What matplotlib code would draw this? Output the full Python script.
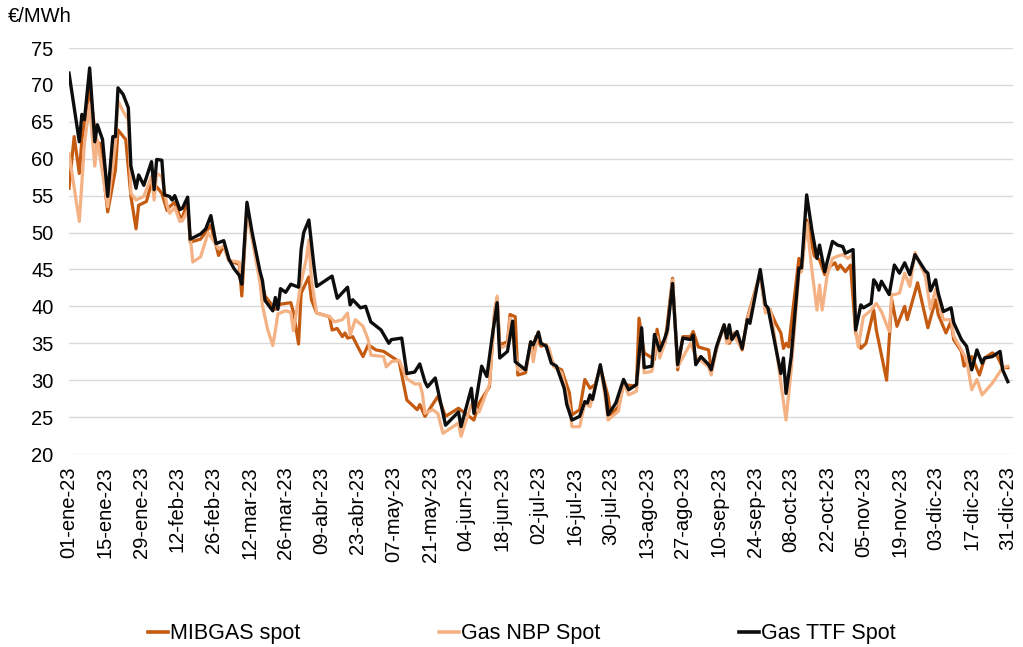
import matplotlib
matplotlib.use("Agg")
import matplotlib.pyplot as plt
from matplotlib.lines import Line2D

plt.rcParams['font.family'] = ['Liberation Sans', 'DejaVu Sans']

# ---- data (day offset from 01-ene-2023, €/MWh) ----
ttf_days = [0, 1, 4, 5, 6, 8, 10, 11, 13, 15, 17, 18, 19, 21, 23, 24, 26, 27, 29, 32, 33, 34, 36, 37, 39,
            40, 41, 43, 44, 46, 47, 51, 53, 55, 57, 60, 62, 64, 66, 67, 69, 71, 74, 75, 76, 79, 80, 81, 82,
            84, 86, 89, 90, 91, 93, 95, 96, 102, 104, 108, 109, 110, 113, 115, 117, 121, 124, 125, 129, 131,
            134, 136, 138, 139, 142, 146, 151, 152, 156, 157, 160, 162, 164, 166, 167, 170, 172, 173, 177,
            179, 180, 182, 183, 185, 187, 189, 192, 193, 195, 198, 200, 201, 202, 203, 206, 208, 209, 212,
            215, 217, 220, 222, 223, 226, 227, 229, 231, 232, 234, 236, 238, 241, 242, 243, 245, 248, 249,
            251, 254, 255, 256, 257, 259, 261, 263, 264, 268, 270, 271, 276, 277, 278, 280, 283, 284, 286,
            288, 290, 291, 293, 294, 296, 298, 300, 301, 304, 305, 307, 308, 311, 312, 313, 314, 315, 318,
            320, 322, 324, 326, 328, 332, 333, 334, 336, 337, 339, 342, 343, 346, 348, 350, 352, 354, 355,
            358, 361, 362, 364]
ttf_vals = [71.6, 69.3, 62.3, 66.0, 65.3, 72.3, 62.3, 64.6, 62.6, 54.9, 63.0, 63.0, 69.6, 68.7, 66.9, 59.0,
            56.0, 57.8, 56.4, 59.6, 55.8, 59.9, 59.8, 55.1, 54.9, 54.4, 55.0, 53.1, 53.3, 54.8, 49.1, 49.8,
            50.5, 52.3, 48.5, 48.9, 46.4, 45.1, 44.2, 43.0, 54.1, 50.0, 44.8, 43.5, 40.8, 39.4, 41.2, 39.6,
            42.4, 41.9, 43.0, 42.6, 47.7, 50.0, 51.7, 45.4, 42.7, 44.1, 41.1, 42.6, 40.2, 40.9, 39.8, 40.0,
            37.9, 36.8, 35.0, 35.5, 35.7, 30.9, 31.1, 32.2, 29.8, 29.1, 30.3, 23.9, 25.7, 23.7, 28.9, 25.5,
            31.9, 30.5, 35.7, 40.5, 33.0, 33.9, 38.0, 32.5, 31.4, 35.2, 34.8, 36.5, 35.0, 34.6, 32.3, 31.9,
            28.9, 26.7, 24.6, 25.1, 27.1, 26.9, 28.0, 27.4, 32.1, 28.3, 25.3, 26.9, 30.1, 28.7, 29.4, 37.1,
            31.7, 31.9, 36.2, 34.0, 35.7, 36.8, 43.1, 32.1, 35.7, 35.5, 36.1, 32.1, 33.2, 32.1, 31.4, 34.5,
            37.5, 35.7, 37.5, 35.5, 36.6, 34.3, 38.2, 37.7, 45.0, 40.2, 39.8, 30.9, 33.0, 28.2, 33.2, 45.2,
            45.2, 55.1, 50.4, 46.5, 48.3, 44.7, 46.1, 48.8, 48.3, 48.1, 47.2, 47.7, 36.8, 40.2, 39.8, 40.4,
            43.6, 43.1, 42.2, 43.4, 41.6, 45.6, 44.5, 45.9, 44.3, 47.0, 44.8, 44.5, 42.1, 43.6, 41.8, 39.3,
            39.8, 37.8, 35.5, 34.6, 31.4, 34.1, 32.3, 33.0, 33.2, 33.9, 31.4, 29.8]

mib_days = [0, 2, 4, 5, 8, 11, 12, 15, 18, 19, 22, 24, 26, 27, 30, 32, 33, 34, 36, 38, 39, 41, 43, 44, 46,
            47, 51, 55, 58, 60, 62, 66, 67, 69, 71, 74, 76, 80, 82, 86, 87, 89, 90, 93, 94, 96, 101, 102,
            104, 106, 107, 108, 110, 112, 114, 116, 119, 122, 125, 128, 131, 135, 136, 138, 143, 146, 151,
            157, 159, 163, 165, 166, 167, 170, 171, 173, 174, 177, 179, 180, 181, 183, 185, 188, 191, 194,
            195, 198, 200, 202, 204, 206, 209, 210, 213, 215, 220, 221, 223, 227, 228, 229, 231, 232, 234,
            236, 238, 241, 242, 244, 248, 249, 252, 254, 256, 258, 261, 263, 268, 270, 272, 274, 276, 277,
            278, 279, 283, 284, 286, 289, 291, 293, 295, 297, 298, 299, 301, 303, 305, 307, 309, 312, 313,
            317, 319, 321, 324, 325, 329, 333, 336, 337, 340, 342, 343, 346, 347, 350, 353, 355, 358, 360,
            362, 364]
mib_vals = [56.0, 63.0, 58.0, 62.6, 69.5, 61.2, 62.1, 52.8, 58.5, 63.9, 62.6, 54.9, 50.5, 53.7, 54.2, 56.7,
            56.0, 56.2, 55.3, 53.0, 53.5, 54.1, 52.1, 52.1, 54.1, 48.7, 49.1, 51.0, 46.9, 48.2, 46.2, 45.7,
            41.4, 53.4, 49.5, 44.2, 41.4, 39.6, 40.3, 40.5, 39.2, 34.9, 41.8, 44.0, 40.9, 39.1, 38.6, 36.8,
            37.0, 35.9, 36.4, 35.7, 35.9, 34.5, 33.2, 34.8, 34.1, 33.9, 33.2, 32.5, 27.3, 26.0, 26.7, 25.1,
            27.8, 25.1, 26.2, 24.6, 26.9, 29.1, 39.3, 41.1, 34.8, 35.2, 38.9, 38.6, 30.7, 31.0, 35.2, 34.1,
            35.9, 34.6, 34.8, 31.9, 31.4, 28.3, 25.3, 26.0, 30.1, 28.9, 29.4, 31.7, 27.8, 25.3, 26.4, 29.4,
            29.2, 38.4, 33.7, 32.8, 36.9, 35.0, 35.0, 37.7, 43.8, 31.4, 35.9, 35.9, 36.6, 34.5, 34.1, 31.4,
            35.5, 37.5, 35.0, 36.4, 34.1, 38.4, 44.5, 39.5, 39.3, 37.7, 36.4, 34.3, 35.0, 34.5, 46.5, 45.0,
            51.7, 46.8, 46.3, 44.3, 45.4, 45.9, 45.0, 45.6, 44.7, 45.6, 36.4, 34.3, 35.0, 39.5, 36.8, 30.0,
            40.9, 37.3, 40.0, 38.2, 43.2, 37.1, 40.9, 38.9, 36.4, 38.0, 35.5, 33.9, 31.9, 33.2, 30.7, 33.0,
            33.7, 33.2, 31.7, 31.7]

nbp_days = [0, 4, 6, 8, 10, 11, 15, 18, 19, 21, 23, 24, 26, 29, 32, 33, 34, 36, 38, 39, 41, 43, 44, 46, 48,
            51, 54, 58, 60, 62, 66, 67, 69, 71, 74, 75, 77, 79, 80, 81, 84, 86, 87, 90, 92, 93, 94, 96, 101,
            103, 106, 108, 109, 111, 114, 116, 117, 122, 123, 125, 128, 131, 134, 136, 137, 138, 141, 143,
            145, 151, 152, 156, 159, 163, 165, 166, 167, 170, 171, 174, 177, 179, 180, 182, 183, 186, 188,
            191, 194, 195, 198, 200, 202, 206, 208, 209, 213, 215, 217, 220, 222, 223, 226, 228, 229, 231,
            232, 234, 236, 241, 243, 248, 249, 251, 254, 255, 258, 261, 263, 268, 270, 272, 274, 276, 278,
            280, 283, 284, 286, 288, 290, 291, 292, 294, 296, 298, 300, 302, 304, 305, 306, 308, 311, 313,
            315, 318, 319, 320, 322, 324, 326, 328, 332, 334, 336, 339, 342, 343, 346, 348, 350, 352, 354,
            358, 362, 364]
nbp_vals = [60.7, 51.5, 62.1, 67.3, 59.0, 62.6, 53.5, 62.1, 67.8, 66.4, 65.3, 55.3, 54.4, 54.9, 57.6, 54.4,
            58.0, 57.6, 53.7, 52.6, 53.4, 51.5, 51.6, 53.0, 46.0, 46.7, 50.0, 47.8, 48.2, 46.2, 46.0, 43.5,
            52.8, 49.1, 43.3, 40.1, 36.9, 34.7, 36.7, 39.0, 39.4, 39.2, 36.7, 43.3, 46.4, 49.0, 43.6, 39.1,
            38.6, 37.9, 38.2, 39.1, 36.1, 38.2, 37.3, 35.5, 33.4, 33.2, 31.8, 32.5, 32.7, 30.2, 29.5, 29.5,
            28.2, 25.5, 26.0, 25.5, 22.8, 24.2, 22.4, 26.7, 25.7, 29.4, 39.1, 41.4, 34.3, 34.8, 38.4, 31.4,
            31.4, 35.0, 32.5, 36.6, 35.0, 34.4, 31.9, 31.0, 26.4, 23.7, 23.7, 26.9, 26.4, 31.9, 27.4, 24.6,
            25.8, 29.6, 28.0, 28.5, 36.9, 31.0, 31.2, 35.9, 33.0, 35.0, 36.4, 43.6, 31.8, 35.0, 33.2, 31.8,
            30.7, 34.3, 37.3, 35.0, 35.9, 34.3, 38.2, 44.3, 39.1, 39.6, 34.8, 29.6, 24.6, 31.4, 44.5, 44.7,
            51.3, 45.0, 39.5, 42.9, 39.5, 44.3, 46.5, 46.8, 47.0, 46.5, 47.0, 36.8, 34.5, 38.6, 39.5, 40.4,
            39.3, 36.6, 41.6, 41.6, 41.8, 44.5, 42.7, 47.3, 44.1, 39.6, 42.3, 38.2, 38.2, 36.0, 34.1, 32.8,
            28.7, 30.1, 28.0, 29.6, 31.7, 31.9]

tick_days = list(range(0, 365, 14))
tick_labels = ['01-ene-23', '15-ene-23', '29-ene-23', '12-feb-23', '26-feb-23', '12-mar-23', '26-mar-23',
               '09-abr-23', '23-abr-23', '07-may-23', '21-may-23', '04-jun-23', '18-jun-23', '02-jul-23',
               '16-jul-23', '30-jul-23', '13-ago-23', '27-ago-23', '10-sep-23', '24-sep-23', '08-oct-23',
               '22-oct-23', '05-nov-23', '19-nov-23', '03-dic-23', '17-dic-23', '31-dic-23']
y_ticks = list(range(20, 80, 5))

series_names = ['MIBGAS spot', 'Gas NBP Spot', 'Gas TTF Spot']
colors = ['#C55A11', '#F4B183', '#0D0D0D']

W, H = 1023, 647
FS = 14.5
LFS = 15.5
fig = plt.figure(figsize=(W / 100, H / 100), dpi=100)
ax = fig.add_axes([69 / W, 1 - 454 / H, (1013 - 69) / W, (454 - 48) / H])

ax.plot(mib_days, mib_vals, color=colors[0], lw=2.3, solid_joinstyle='round')
ax.plot(nbp_days, nbp_vals, color=colors[1], lw=2.3, solid_joinstyle='round')
ax.plot(ttf_days, ttf_vals, color=colors[2], lw=2.4, solid_joinstyle='round')

ax.set_xlim(0, 366)
ax.set_ylim(20, 75)
ax.set_yticks(y_ticks)
ax.set_xticks(tick_days)
ax.set_xticklabels(tick_labels, rotation=90, fontsize=FS, color='#000000')
ax.tick_params(axis='y', labelsize=FS, length=0, pad=11)
ax.tick_params(axis='x', length=0, pad=9)
ax.yaxis.grid(True, color='#D9D9D9', lw=1.0)
ax.set_axisbelow(True)
for s in ax.spines.values():
    s.set_visible(False)

fig.text(8 / W, 1 - 17 / H, '€/MWh', fontsize=FS, ha='left', va='center')

handles = [Line2D([], [], color=c, lw=2.6) for c in colors]
fig.legend(handles, series_names, loc='center', bbox_to_anchor=(0.51, 1 - 634 / H), ncol=3,
           frameon=False, fontsize=LFS, handlelength=0.93, handletextpad=0.1, columnspacing=6.45)

fig.savefig('out.png', dpi=100)
